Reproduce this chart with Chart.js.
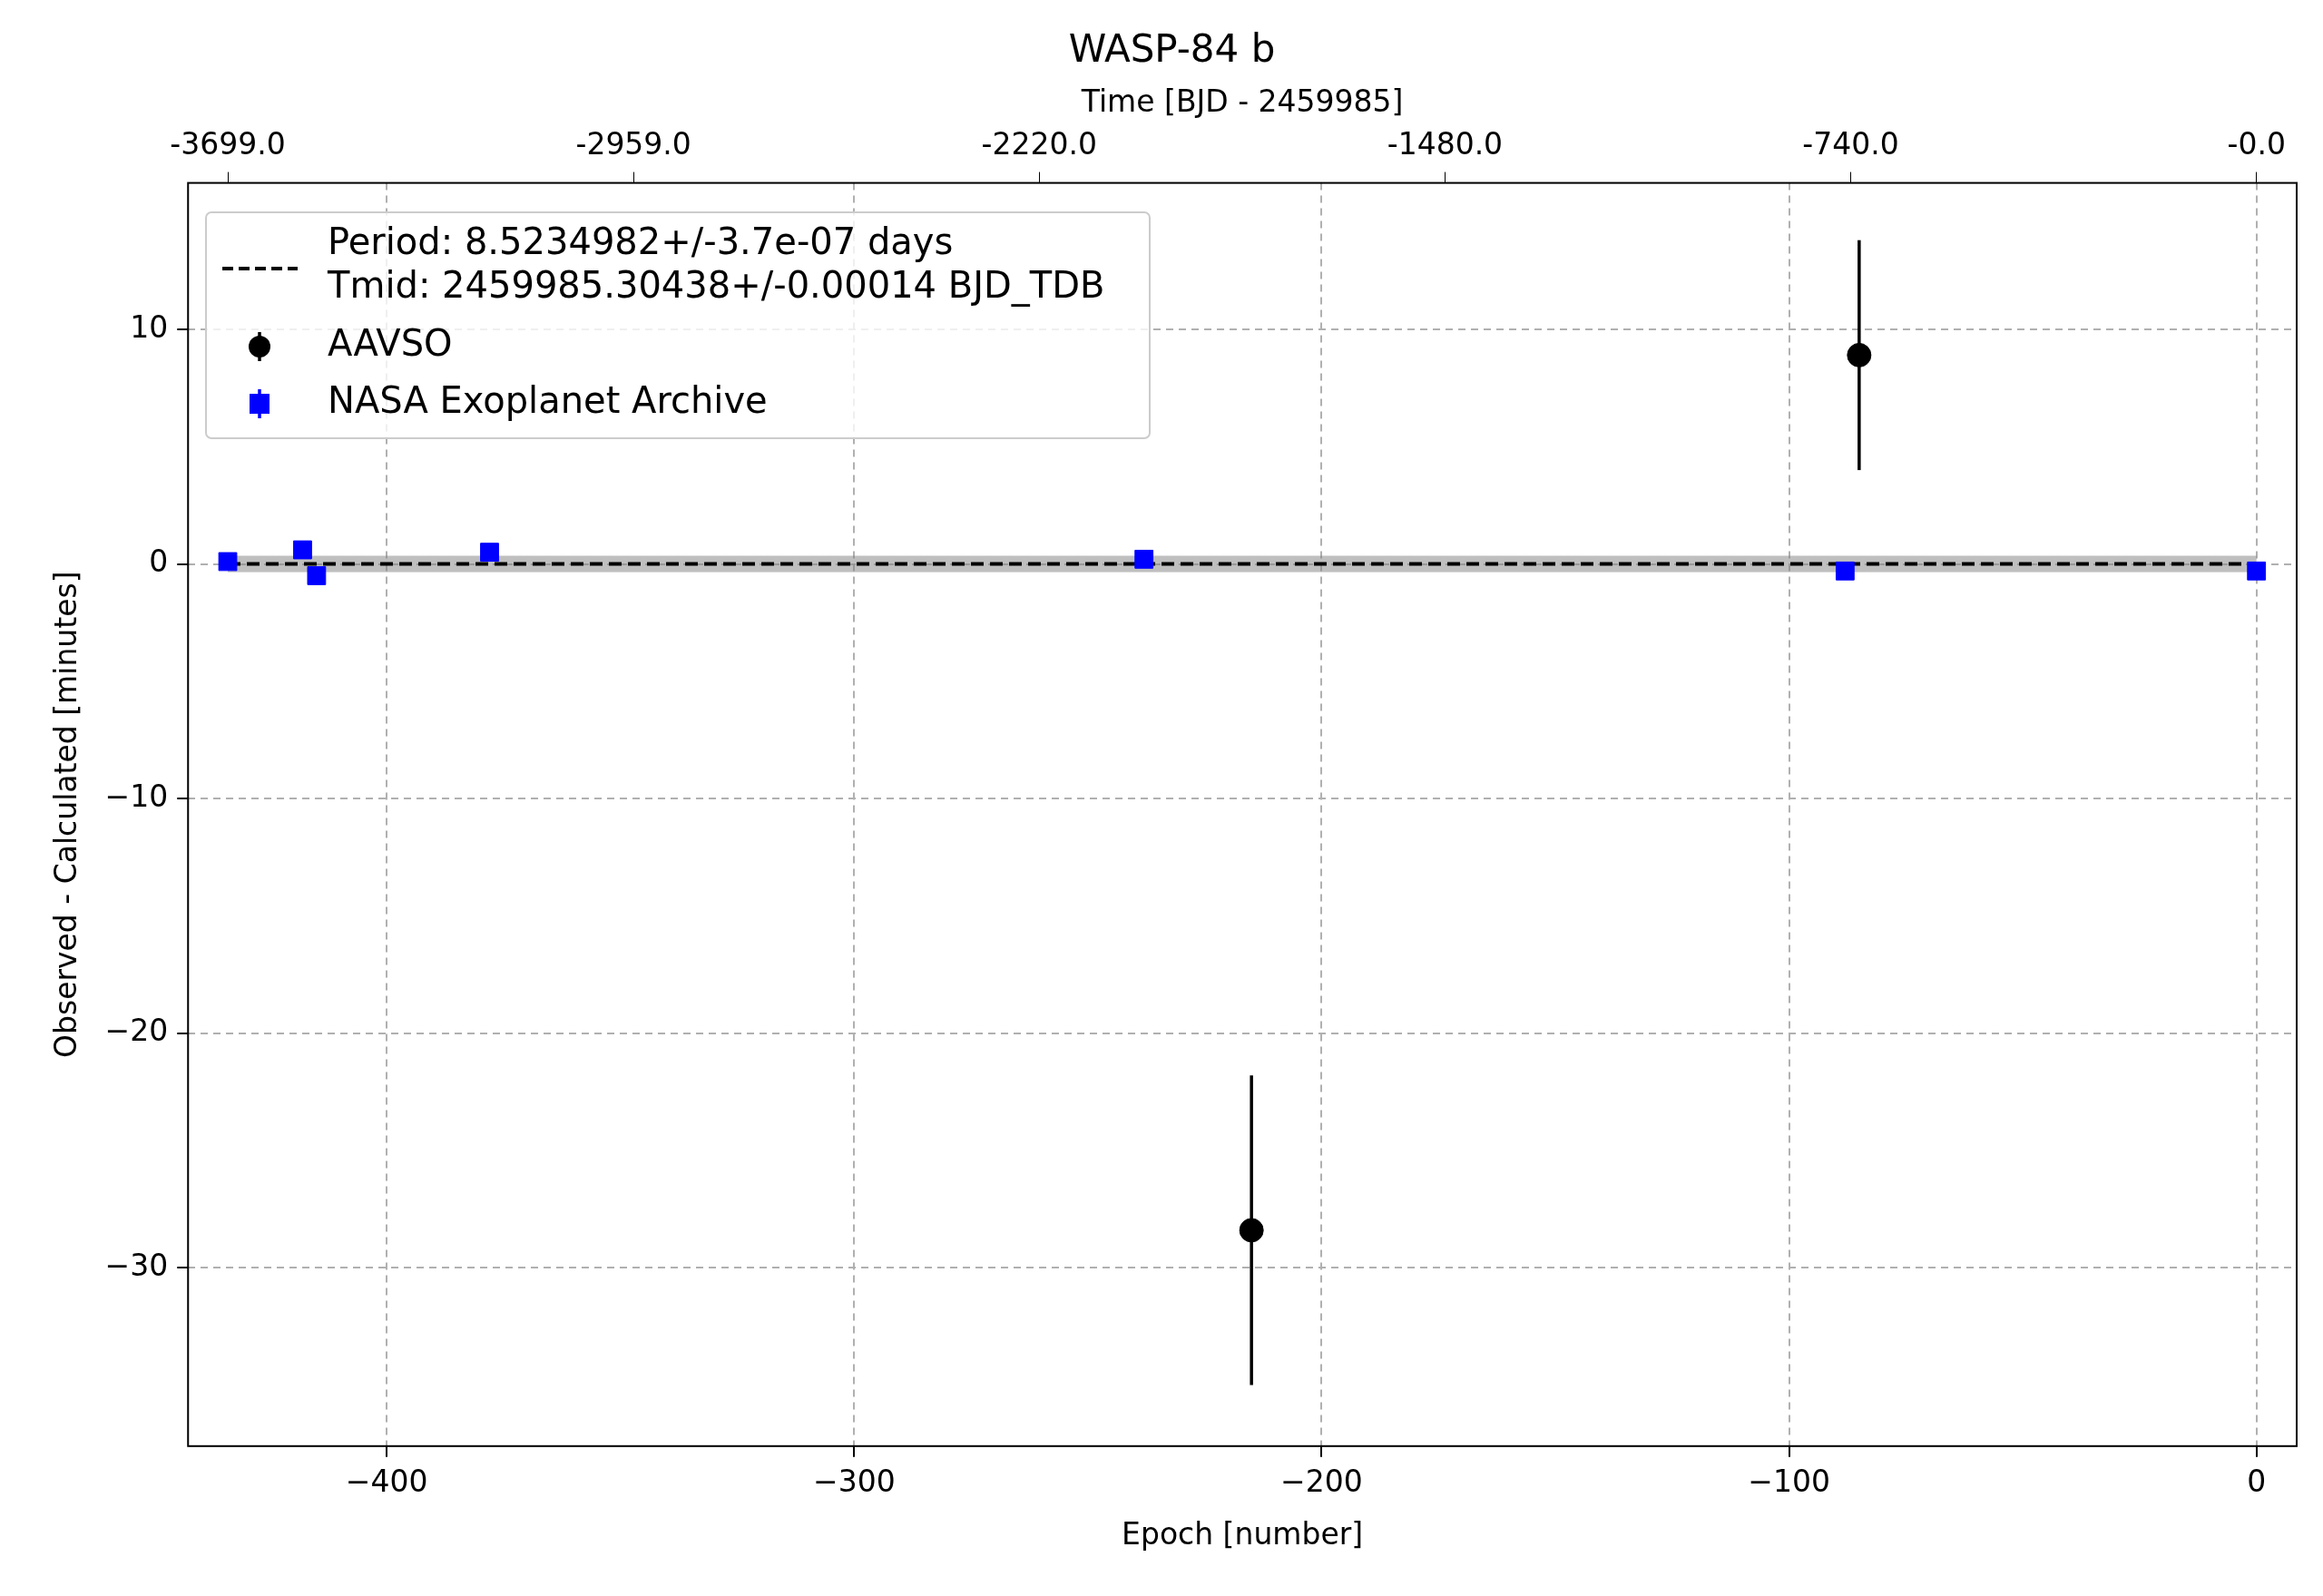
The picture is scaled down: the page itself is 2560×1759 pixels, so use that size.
<!DOCTYPE html>
<html><head><meta charset="utf-8">
<script src="https://cdn.jsdelivr.net/npm/chart.js@4/dist/chart.umd.min.js"></script>
<style>html,body{margin:0;padding:0;background:#fff}canvas{display:block}</style>
</head><body><canvas id="c" width="2560" height="1759"></canvas>
<script>
const nasaEpoch = [-434, -418, -415, -378, -238, -88, 0];
const nasaOC = [0.1, 0.6, -0.5, 0.5, 0.2, -0.3, -0.3];
const nasaErr = [0.2, 0.2, 0.2, 0.2, 0.2, 0.2, 0.2];
const aavsoEpoch = [-215, -85];
const aavsoOC = [-28.4, 8.9];
const aavsoErr = [6.6, 4.9];
const topTickEpochs = [-434, -347.2, -260.4, -173.6, -86.8, 0];
const topTickLabels = ["-3699.0", "-2959.0", "-2220.0", "-1480.0", "-740.0", "-0.0"];
const fitLine = [{x:-434,y:0},{x:0,y:0}];
const bandHalf = 0.35;
const legendLines = ["Period: 8.5234982+/-3.7e-07 days", "Tmid: 2459985.30438+/-0.00014 BJD_TDB", "AAVSO", "NASA Exoplanet Archive"];

const F = "'DejaVu Sans', sans-serif";
const plugin = {
  id: 'extras',
  beforeDatasetsDraw(chart) {
    const {ctx, scales:{x, y}} = chart;
    ctx.save();
    ctx.fillStyle = 'rgba(128,128,128,0.5)';
    const x0 = x.getPixelForValue(-434), x1 = x.getPixelForValue(0);
    ctx.fillRect(x0, y.getPixelForValue(bandHalf), x1 - x0, y.getPixelForValue(-bandHalf) - y.getPixelForValue(bandHalf));
    ctx.strokeStyle = '#000'; ctx.lineWidth = 3.5;
    aavsoEpoch.forEach((e,i)=>{
      const px = x.getPixelForValue(e);
      ctx.beginPath(); ctx.moveTo(px, y.getPixelForValue(aavsoOC[i]+aavsoErr[i])); ctx.lineTo(px, y.getPixelForValue(aavsoOC[i]-aavsoErr[i])); ctx.stroke();
    });
    ctx.strokeStyle = '#0000ff';
    nasaEpoch.forEach((e,i)=>{
      const px = x.getPixelForValue(e);
      ctx.beginPath(); ctx.moveTo(px, y.getPixelForValue(nasaOC[i]+nasaErr[i])); ctx.lineTo(px, y.getPixelForValue(nasaOC[i]-nasaErr[i])); ctx.stroke();
    });
    ctx.restore();
  },
  afterDraw(chart) {
    const {ctx, chartArea:a} = chart;
    ctx.save();
    ctx.strokeStyle = '#000'; ctx.lineWidth = 2;
    ctx.strokeRect(a.left, a.top, a.right - a.left, a.bottom - a.top);
    const lx = 227, ly = 234, lw = 1040, lh = 249;
    ctx.fillStyle = 'rgba(255,255,255,0.8)';
    ctx.strokeStyle = '#cccccc'; ctx.lineWidth = 2;
    ctx.beginPath(); ctx.roundRect(lx, ly, lw, lh, 6); ctx.fill(); ctx.stroke();
    ctx.fillStyle = '#000'; ctx.font = '40px ' + F; ctx.textBaseline = 'middle';
    ctx.fillText(legendLines[0], 361, 270);
    ctx.fillText(legendLines[1], 361, 318);
    ctx.fillText(legendLines[2], 361, 382);
    ctx.fillText(legendLines[3], 361, 445);
    ctx.strokeStyle = '#000'; ctx.lineWidth = 4; ctx.setLineDash([12,6]);
    ctx.beginPath(); ctx.moveTo(245, 296); ctx.lineTo(328, 296); ctx.stroke();
    ctx.setLineDash([]);
    ctx.lineWidth = 3.5;
    ctx.beginPath(); ctx.moveTo(286, 366); ctx.lineTo(286, 398); ctx.stroke();
    ctx.beginPath(); ctx.arc(286, 382, 12, 0, Math.PI*2); ctx.fill();
    ctx.fillStyle = '#0000ff'; ctx.strokeStyle = '#0000ff';
    ctx.beginPath(); ctx.moveTo(286, 429); ctx.lineTo(286, 461); ctx.stroke();
    ctx.fillRect(275, 434, 22, 22);
    ctx.restore();
  }
};

new Chart(document.getElementById('c'), {
  type: 'scatter',
  data: { datasets: [
    { label: 'fit', data: fitLine, showLine: true, borderColor: '#000', borderWidth: 4, borderDash: [14,7], pointRadius: 0, order: 3 },
    { label: 'AAVSO', data: aavsoEpoch.map((e,i)=>({x:e,y:aavsoOC[i]})), pointStyle: 'circle', pointRadius: 13, backgroundColor: '#000', borderColor: '#000', order: 1 },
    { label: 'NASA Exoplanet Archive', data: nasaEpoch.map((e,i)=>({x:e,y:nasaOC[i]})), pointStyle: 'rect', pointRadius: 14, backgroundColor: '#0000ff', borderColor: '#0000ff', order: 2 }
  ]},
  options: {
    responsive: false, animation: false, devicePixelRatio: 1,
    layout: { padding: { left: 52, right: 29, top: 22, bottom: 42 } },
    plugins: {
      legend: { display: false }, tooltip: { enabled: false },
      title: { display: true, text: 'WASP-84 b', color: '#000', font: { family: F, size: 42, weight: 'normal' }, padding: { top: 10, bottom: 8 } }
    },
    scales: {
      x: { type: 'linear', min: -442.5, max: 8.6, position: 'bottom',
        afterBuildTicks: s => { s.ticks = [-400,-300,-200,-100,0].map(v=>({value:v})); },
        ticks: { color: '#000', font: { family: F, size: 33 }, padding: 10, callback: v => String(v).replace('-', '\u2212') },
        grid: { color: '#b0b0b0', lineWidth: 2, drawTicks: true, tickLength: 12, tickColor: '#000', tickBorderDash: [] },
        border: { display: false, dash: [8,6] },
        title: { display: true, text: 'Epoch [number]', color: '#000', font: { family: F, size: 33 }, padding: { top: 8 } } },
      x2: { type: 'linear', min: -442.5, max: 8.6, position: 'top',
        afterBuildTicks: s => { s.ticks = topTickEpochs.map(v=>({value:v})); },
        ticks: { color: '#000', font: { family: F, size: 33 }, padding: 8, autoSkip: false, maxRotation: 0, callback: (v, i) => topTickLabels[i] },
        grid: { drawOnChartArea: false, tickLength: 12, tickColor: '#000' },
        border: { display: false },
        title: { display: true, text: 'Time [BJD - 2459985]', color: '#000', font: { family: F, size: 33 }, padding: { bottom: 0 } } },
      y: { type: 'linear', min: -37.6, max: 16.24,
        afterBuildTicks: s => { s.ticks = [-30,-20,-10,0,10].map(v=>({value:v})); },
        ticks: { color: '#000', font: { family: F, size: 33 }, padding: 10, callback: v => String(v).replace('-', '\u2212') },
        grid: { color: '#b0b0b0', lineWidth: 2, tickLength: 12, tickColor: '#000', tickBorderDash: [] },
        border: { display: false, dash: [8,6] },
        title: { display: true, text: 'Observed - Calculated [minutes]', color: '#000', font: { family: F, size: 33 }, padding: { bottom: 10 } } }
    }
  },
  plugins: [plugin]
});
</script></body></html>
